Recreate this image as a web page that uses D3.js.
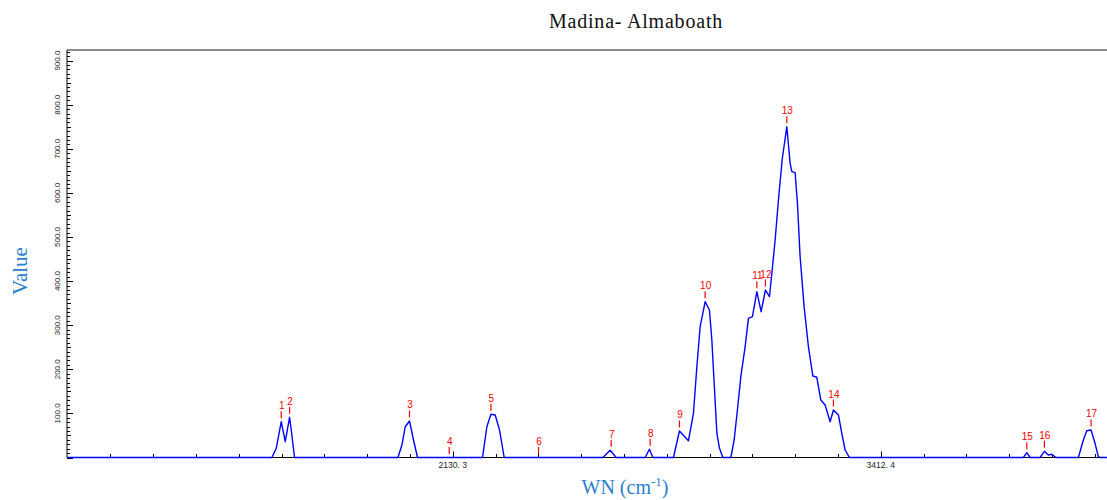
<!DOCTYPE html>
<html><head><meta charset="utf-8">
<script src="https://cdn.jsdelivr.net/npm/d3@7"></script>
<style>html,body{margin:0;padding:0;background:#fff;}svg{display:block;}</style>
</head><body>
<svg id="chart" width="1107" height="500"></svg>
<script>
// Spectrum trace (wavenumber, value)
const wn = [974.6,1588.5,1601.4,1616.4,1628.4,1641.3,1646.3,1656.2,
  1965.9,1977.9,1987.8,2000.6,2012.6,2024.6,
  2219.3,2232.4,2244.4,2257.3,2270.2,2284.3,
  2579.8,2601.7,2619.7,
  2706.5,2719.4,2729.6,
  2791.3,2809.2,2836.2,2851.2,2861.4,2871.2,2879.3,2886.2,2899.1,2906.3,2913.2,2921.3,2929.0,2939.2,
  2963.2,2973.1,2982.9,2993.1,3006.0,3015.9,3027.9,3041.1,3053.9,3066.8,3078.8,3086.0,3095.9,3105.8,3116.8,
  3130.9,3140.8,3145.9,3155.8,3162.7,3170.7,3182.7,3195.6,3208.8,3220.7,3232.7,3245.6,3260.6,3270.5,3285.5,
  3295.6,3305.5,3318.4,
  3839.5,3849.7,3859.5,
  3889.5,3902.4,3914.4,3924.5,3937.4,
  4004.2,4019.2,4029.4,4042.2,4054.2,4064.1,4069.2,4090.0];
const value = [0,0,20.9,81.2,35.8,91.2,62.4,0,
  0,28.3,69.8,82.8,39.7,0,
  0,69.8,98.0,96.4,62.4,0,
  0,16.3,0,
  0,18.6,0,
  0,60.1,38.1,100.2,205.9,296.6,327.0,353.3,334.5,266.4,168.9,55.6,21.5,0,
  0,39.7,107.7,183.2,251.2,315.6,319.3,376.0,330.6,379.8,364.6,417.7,493.2,583.9,674.6,
  750.1,667.1,648.1,645.8,576.4,455.3,342.0,251.2,184.8,181.9,130.4,119.0,81.2,107.7,96.4,
  54.9,17.0,0,
  0,10.9,0,
  0,14.1,5.7,7.3,0,
  0,39.7,60.8,62.4,32.2,1.8,0,0];

// Peak markers
const peakIds = ["1","2","3","4","5","6","7","8","9","10","11","12","13","14","15","16","17"];
const peakWN  = [1616.4,1641.3,2000.6,2119.5,2244.4,2387.0,2604.7,2721.5,2809.2,2886.2,3041.1,3066.8,3130.9,3270.5,3849.7,3902.4,4042.2];
const peakVal = [81.2,91.2,82.8,0,98.0,0,16.3,18.6,60.1,353.3,376.0,379.8,750.1,107.7,10.9,14.1,62.4];

// Axis ticks
const yTickValues = [100,200,300,400,500,600,700,800,900];
const yTickLabels = ["100.0","200.0","300.0","400.0","500.0","600.0","700.0","800.0","900.0"];
const xMajorValues = [2130.3, 3412.4];
const xMajorLabels = ["2130. 3", "3412. 4"];
const xMinorStep = 128.21;

const titleText = "Madina- Almaboath";

const svg = d3.select("#chart");
const L = 67, R = 1107, T = 50, B = 457.5;
const x = d3.scaleLinear().domain([974.6, 4090.0]).range([L, R]);
const y = d3.scaleLinear().domain([0, 924]).range([B, T]);

// top frame
svg.append("line").attr("x1", L).attr("x2", R).attr("y1", T).attr("y2", T)
  .attr("stroke", "#666").attr("stroke-width", 1.5);

// Y axis
const yMinor = d3.range(0, 921, 10);
const gy = svg.append("g").attr("transform", `translate(${L},0)`);
gy.append("line").attr("x1", 0).attr("x2", 0).attr("y1", T).attr("y2", B).attr("stroke", "#000").attr("stroke-width", 1);
gy.selectAll("line.tk").data(yMinor).enter().append("line").attr("class", "tk")
  .attr("x1", 0).attr("x2", d => d % 100 === 0 ? 6 : (d % 50 === 0 ? 4 : 3))
  .attr("y1", d => Math.round(y(d)) + 0.5).attr("y2", d => Math.round(y(d)) + 0.5)
  .attr("stroke", "#000").attr("stroke-width", 1);
gy.selectAll("text").data(yTickValues).enter().append("text")
  .attr("transform", d => `translate(-7,${y(d)}) rotate(-90)`)
  .attr("text-anchor", "middle")
  .attr("font-family", "Liberation Sans, Arial, sans-serif")
  .attr("font-size", 8).attr("fill", "#222")
  .text((d, i) => yTickLabels[i]);

// X axis
const xMinor = d3.range(-9, 16).map(k => 2130.3 + k * xMinorStep).filter(v => x(v) >= L + 5 && x(v) <= R);
const gx = svg.append("g");
gx.append("line").attr("x1", L).attr("x2", R).attr("y1", B).attr("y2", B).attr("stroke", "#000").attr("stroke-width", 1.2);
gx.selectAll("line.tk").data(xMinor).enter().append("line").attr("class", "tk")
  .attr("x1", d => Math.round(x(d)) + 0.5).attr("x2", d => Math.round(x(d)) + 0.5)
  .attr("y1", B).attr("y2", d => xMajorValues.some(m => Math.abs(m - d) < 1) ? B - 6 : B - 3.5)
  .attr("stroke", "#000").attr("stroke-width", 1);
gx.selectAll("text").data(xMajorValues).enter().append("text")
  .attr("x", d => x(d)).attr("y", B + 10.5)
  .attr("text-anchor", "middle")
  .attr("font-family", "Liberation Sans, Arial, sans-serif")
  .attr("font-size", 8.5).attr("fill", "#222")
  .text((d, i) => xMajorLabels[i]);

// spectrum line
const pts = wn.map((w, i) => [w, value[i]]);
svg.append("path").datum(pts)
  .attr("d", d3.line().x(d => x(d[0])).y(d => y(d[1])))
  .attr("fill", "none").attr("stroke", "#0000ff").attr("stroke-width", 1.4)
  .attr("stroke-linejoin", "round");

// peak labels
const pg = svg.append("g");
peakIds.forEach((id, i) => {
  const px = x(peakWN[i]), py = y(peakVal[i]);
  pg.append("line").attr("x1", px).attr("x2", px).attr("y1", py - 3.5).attr("y2", py - 10.5)
    .attr("stroke", "#ff0000").attr("stroke-width", 1.2);
  pg.append("text").attr("x", px + 0.5).attr("y", py - 12.5)
    .attr("text-anchor", "middle")
    .attr("font-family", "Liberation Sans, Arial, sans-serif")
    .attr("font-size", 10).attr("fill", "#ff0000")
    .text(id);
});

// title
svg.append("text").attr("x", 636).attr("y", 28).attr("text-anchor", "middle")
  .attr("font-family", "Liberation Serif, Times New Roman, serif")
  .attr("font-size", 20).attr("letter-spacing", 0.8).attr("fill", "#111")
  .text(titleText);

// axis titles
const axisBlue = "#2a7fd0";
svg.append("text").attr("transform", "translate(27,271) rotate(-90)").attr("text-anchor", "middle")
  .attr("font-family", "Liberation Serif, Times New Roman, serif")
  .attr("font-size", 21).attr("fill", axisBlue).text("Value");
const xt = svg.append("text").attr("x", 625).attr("y", 494).attr("text-anchor", "middle")
  .attr("font-family", "Liberation Serif, Times New Roman, serif")
  .attr("font-size", 20).attr("fill", axisBlue);
xt.append("tspan").text("WN (cm");
xt.append("tspan").attr("dy", -8).attr("font-size", 13).text("-1");
xt.append("tspan").attr("dy", 8).text(")");
</script>
</body></html>
